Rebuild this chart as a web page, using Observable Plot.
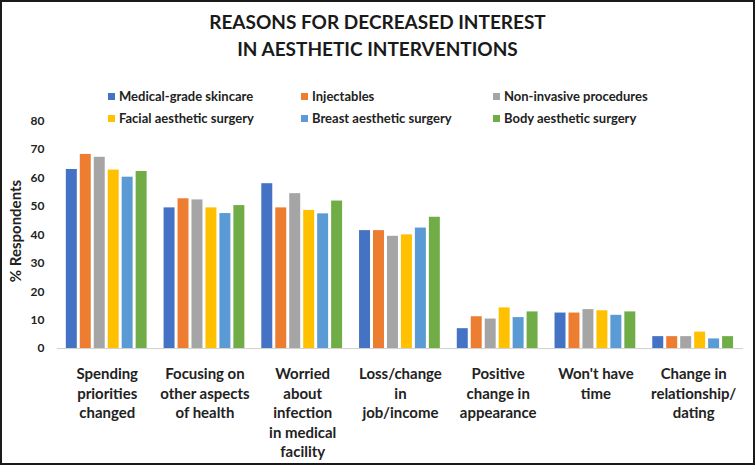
<!DOCTYPE html>
<html>
<head>
<meta charset="utf-8">
<script src="https://cdn.jsdelivr.net/npm/d3@7"></script>
<script src="https://cdn.jsdelivr.net/npm/@observablehq/plot@0.6"></script>
<style>
  html, body { margin: 0; padding: 0; background: #fff; }
  #frame { position: relative; width: 755px; height: 465px; box-sizing: border-box; border: 2px solid #1a1a1a; overflow: hidden; font-family: Lato, "Open Sans", sans-serif; font-weight: bold; color: #222; }
  #chart { position: absolute; left: -2px; top: -2px; }
  #title { position: absolute; left: 0; width: 751px; top: 6px; text-align: center; font-size: 19px; line-height: 27px; color: #1a1a1a; }
  #ylabel { position: absolute; left: 13px; top: 229px; transform: translate(-50%, -50%) rotate(-90deg); font-size: 15px; white-space: nowrap; color: #222; }
  .leg { position: absolute; font-size: 13px; white-space: nowrap; display: flex; align-items: center; color: #222; }
  .leg span.sw { display: inline-block; width: 7px; height: 7px; margin-right: 4px; }
</style>
</head>
<body>
<div id="frame">
  <div id="chart"></div>
  <div id="title">REASONS FOR DECREASED INTEREST<br>IN AESTHETIC INTERVENTIONS</div>
  <div id="ylabel">% Respondents</div>
</div>
<script>
const categories = [
  "Spending\npriorities\nchanged",
  "Focusing on\nother aspects\nof health",
  "Worried\nabout\ninfection\nin medical\nfacility",
  "Loss/change\nin\njob/income",
  "Positive\nchange in\nappearance",
  "Won't have\ntime",
  "Change in\nrelationship/\ndating"
];
const seriesNames = [
  "Medical-grade skincare",
  "Injectables",
  "Non-invasive procedures",
  "Facial aesthetic surgery",
  "Breast aesthetic surgery",
  "Body aesthetic surgery"
];
const seriesColors = ["#4472C4", "#ED7D31", "#A5A5A5", "#FFC000", "#5B9BD5", "#70AD47"];
const medicalGradeSkincare = [63, 49.5, 58, 41.5, 7, 12.5, 4.2];
const injectables = [68.3, 52.7, 49.5, 41.5, 11.2, 12.5, 4.2];
const nonInvasive = [67.3, 52.3, 54.5, 39.5, 10.4, 13.7, 4.2];
const facialSurgery = [62.8, 49.5, 48.6, 40, 14.3, 13.3, 5.8];
const breastSurgery = [60.3, 47.5, 47.4, 42.4, 10.9, 11.7, 3.4];
const bodySurgery = [62.3, 50.3, 51.9, 46.2, 12.9, 12.9, 4.2];
const yTicks = [0, 10, 20, 30, 40, 50, 60, 70, 80];

const seriesValues = [medicalGradeSkincare, injectables, nonInvasive, facialSurgery, breastSurgery, bodySurgery];
const data = [];
categories.forEach((c, i) => {
  seriesNames.forEach((s, j) => {
    data.push({category: c, series: s, value: seriesValues[j][i]});
  });
});

const plot = Plot.plot({
  width: 755,
  height: 465,
  marginTop: 121,
  marginBottom: 116,
  marginLeft: 60,
  marginRight: 13,
  style: {fontFamily: "Lato, 'Open Sans', sans-serif", fontWeight: "bold", color: "#222", background: "transparent"},
  fx: {domain: categories, padding: 0.1, label: null},
  x: {domain: seriesNames, padding: 0.2, axis: null},
  y: {domain: [0, 80], label: null},
  color: {domain: seriesNames, range: seriesColors},
  marks: [
    Plot.barY(data, {fx: "category", x: "series", y: "value", fill: "series"}),
    Plot.ruleY([0], {stroke: "#d0d0d0", strokeWidth: 1, insetLeft: -6, insetRight: -6}),
    Plot.axisY({ticks: yTicks, tickSize: 0, tickPadding: 19, fontSize: 12, label: null}),
    Plot.axisFx({anchor: "bottom", tickSize: 0, tickPadding: 17, fontSize: 15, lineHeight: 1.3, label: null})
  ]
});
document.getElementById("chart").appendChild(plot);

const frame = document.getElementById("frame");
const legX = [106, 299, 491];
const legY = [86, 108];
seriesNames.forEach((s, j) => {
  const d = document.createElement("div");
  d.className = "leg";
  d.style.left = legX[j % 3] + "px";
  d.style.top = legY[Math.floor(j / 3)] + "px";
  d.innerHTML = `<span class="sw" style="background:${seriesColors[j]}"></span>`;
  d.appendChild(document.createTextNode(s));
  frame.appendChild(d);
});
</script>
</body>
</html>
